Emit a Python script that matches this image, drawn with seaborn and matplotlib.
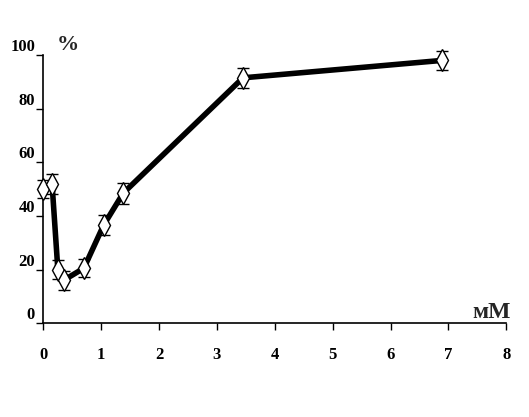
import numpy as np
import matplotlib
matplotlib.use("Agg")
import matplotlib.pyplot as plt
import seaborn as sns

# concentration, mM
conc = [0.0, 0.15, 0.25, 0.35, 0.70, 1.04, 1.38, 3.45, 6.89]
# response, %
resp = [50.0, 52.0, 20.0, 16.0, 20.5, 36.5, 48.5, 91.5, 98.0]
err = [3.4, 3.7, 3.4, 3.6, 3.4, 3.7, 3.9, 3.7, 3.6]

xticks = [0, 1, 2, 3, 4, 5, 6, 7, 8]
yticks = [0, 20, 40, 60, 80, 100]

sns.set_style("ticks")
plt.rcParams['font.family'] = ['Liberation Serif', 'DejaVu Serif']
plt.rcParams['font.weight'] = 'bold'

fig = plt.figure(figsize=(5.29, 4.17), dpi=100)
ax = fig.add_axes([0.082, 0.225, 0.875, 0.643])

sns.lineplot(x=conc, y=resp, ax=ax, color='black', linewidth=4, zorder=2)
ax.errorbar(conc, resp, yerr=err, fmt='none', ecolor='black',
            elinewidth=1, capsize=4, capthick=1, zorder=3)
ax.plot(conc, resp, linestyle='none', marker='d', markersize=11,
        markerfacecolor='white', markeredgecolor='black',
        markeredgewidth=1, zorder=4)
for art in ax.lines + ax.collections:
    art.set_clip_on(False)

ax.set_xlim(0, 8)
ax.set_ylim(0, 100)
ax.set_xticks(xticks)
ax.set_yticks(yticks)
ax.set_xticklabels([str(t) for t in xticks], fontsize=12, fontweight='bold')
ax.set_yticklabels([str(t) for t in yticks], fontsize=12, fontweight='bold')
ax.tick_params(axis='x', direction='out', length=5, width=1, pad=12, colors='black')
ax.tick_params(axis='y', direction='out', length=5, width=1, pad=1, colors='black')
for lab in ax.get_yticklabels():
    lab.set_verticalalignment('bottom')

sns.despine(ax=ax)
for s in ['left', 'bottom']:
    ax.spines[s].set_linewidth(1.2)
    ax.spines[s].set_color('black')

ax.text(0.028, 1.0, '%', transform=ax.transAxes, fontsize=16,
        fontweight='bold', ha='left', va='bottom')
ax.text(1.01, 0.0, 'мМ', transform=ax.transAxes, fontsize=17,
        fontweight='bold', ha='right', va='bottom')

fig.savefig('out.png', dpi=100)
